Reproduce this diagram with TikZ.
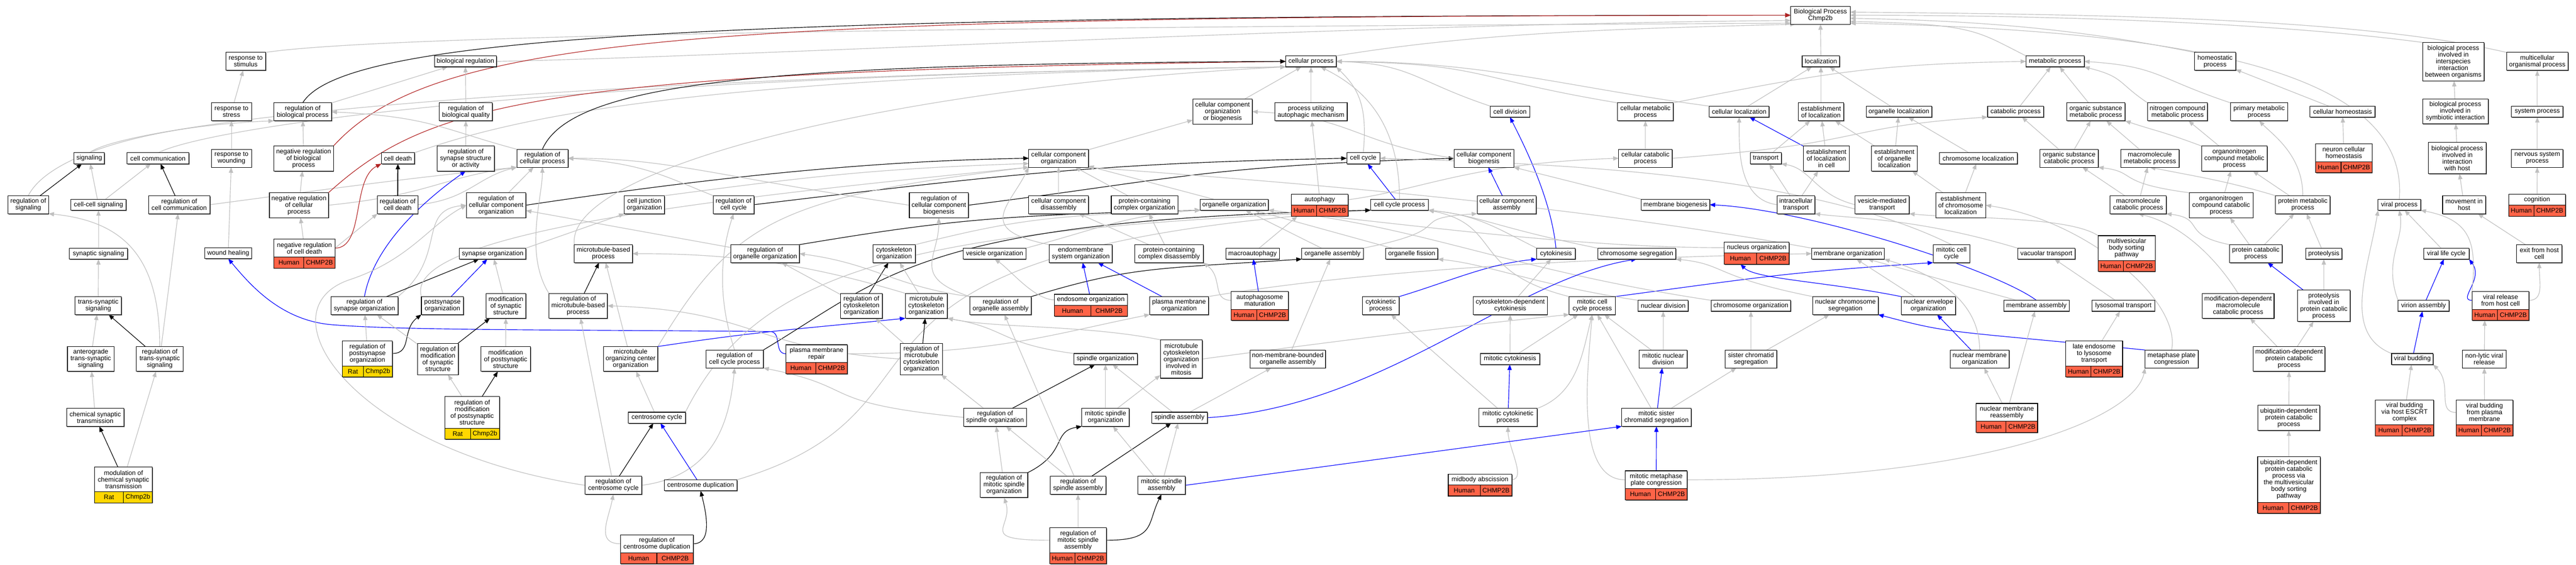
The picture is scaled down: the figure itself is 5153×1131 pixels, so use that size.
\documentclass[tikz,border=0pt]{standalone}
\usepackage{fontspec}
\newfontfamily\lsans{Liberation Sans}
\usetikzlibrary{arrows.meta,backgrounds,shadows}
\definecolor{egrey}{RGB}{192,192,192}
\definecolor{ered}{RGB}{178,34,34}
\definecolor{cellred}{RGB}{255,99,71}
\definecolor{cellyel}{RGB}{255,215,0}
\newcommand\gofnt{\lsans\fontsize{13}{13.4}\selectfont}
\tikzset{
  box/.style={draw=black, line width=1.1pt, fill=white, inner sep=1pt, outer sep=0pt, align=center, font=\gofnt,
    drop shadow={shadow xshift=1.3pt, shadow yshift=-1.3pt, fill=black!60, opacity=1}},
  hcell/.style={draw=black, line width=1.1pt, fill=cellred, minimum height=22pt, inner sep=0pt, outer sep=0pt, font=\gofnt,
    drop shadow={shadow xshift=1.3pt, shadow yshift=-1.3pt, fill=black!60, opacity=1}},
  ycell/.style={hcell, fill=cellyel},
  ed/.style={line width=1.2pt, -{Triangle[length=11pt,width=8.5pt]}},
  eg/.style={ed, draw=egrey},
  ek/.style={ed, draw=black},
  eb/.style={ed, draw=blue},
  er/.style={ed, draw=ered},
}
\newcommand\nd[6]{\node[box, minimum width=#4pt, minimum height=#5pt] (#1) at (#2,#3) {#6};}
\newcommand\hsp[7]{%
  \node[box, minimum width=#4pt, minimum height=#5pt] (#1) at (#2,#3) {#6};
  \node[hcell, minimum width=#7pt, anchor=north west] (#1-l) at (#1.south west) {Human};
  \node[hcell, minimum width={(#4-#7)*1pt}, anchor=north west] (#1-r) at (#1-l.north east) {CHMP2B};}
\newcommand\rsp[7]{%
  \node[box, minimum width=#4pt, minimum height=#5pt] (#1) at (#2,#3) {#6};
  \node[ycell, minimum width=#7pt, anchor=north west] (#1-l) at (#1.south west) {Rat};
  \node[ycell, minimum width={(#4-#7)*1pt}, anchor=north west] (#1-r) at (#1-l.north east) {Chmp2b};}
\begin{document}
\begin{tikzpicture}[x=1pt,y=-1pt]
\useasboundingbox (0,0) rectangle (5153,1131);
% ---------- nodes ----------
\nd{bp}{3641.5}{30.5}{119}{36}{Biological Process\\Chmp2b}
\nd{rstim}{491.5}{123}{79}{36}{response to\\stimulus}
\nd{bioreg}{931}{123}{124}{22}{biological regulation}
\nd{cellproc}{2622.5}{123}{101}{22}{cellular process}
\nd{loc}{3642.5}{123}{75}{22}{localization}
\nd{metab}{4111}{123}{116}{22}{metabolic process}
\nd{homeo}{4431}{123}{82}{36}{homeostatic\\process}
\nd{inter}{4907.5}{123.5}{123}{77}{biological process\\involved in\\interspecies\\interaction\\between organisms}
\nd{multi}{5075.5}{123}{123}{36}{multicellular\\organismal process}
\nd{rstress}{463}{224}{80}{36}{response to\\stress}
\nd{rbp}{605.5}{224}{115}{36}{regulation of\\biological process}
\nd{rbq}{932}{224}{106}{36}{regulation of\\biological quality}
\nd{ccob}{2445.5}{223.5}{119}{50}{cellular component\\organization\\or biogenesis}
\nd{puam}{2622.5}{224}{145}{36}{process utilizing\\autophagic mechanism}
\nd{celldiv}{3020.5}{223.5}{79}{22}{cell division}
\nd{cmp}{3291.5}{224}{111}{36}{cellular metabolic\\process}
\nd{cloc}{3479}{223.5}{120}{22}{cellular localization}
\nd{eloc}{3642.5}{224}{91}{36}{establishment\\of localization}
\nd{oloc}{3798.5}{223.5}{131}{22}{organelle localization}
\nd{catab}{4032}{223.5}{112}{22}{catabolic process}
\nd{osmp}{4192.5}{224}{117}{36}{organic substance\\metabolic process}
\nd{ncmp}{4356}{224}{120}{36}{nitrogen compound\\metabolic process}
\nd{pmp}{4519}{224}{114}{36}{primary metabolic\\process}
\nd{chomeo}{4686}{223.5}{130}{22}{cellular homeostasis}
\nd{symb}{4911.5}{223}{131}{50}{biological process\\involved in\\symbiotic interaction}
\nd{sysp}{5075.5}{223.5}{103}{22}{system process}
\nd{sig}{178.5}{317}{61}{22}{signaling}
\nd{ccomm}{316}{317}{123}{22}{cell communication}
\nd{rwound}{463}{317}{80}{36}{response to\\wounding}
\nd{nrbp}{607.5}{317.5}{119}{50}{negative regulation\\of biological\\process}
\nd{cdeath}{796}{317}{66}{22}{cell death}
\nd{rssa}{931.5}{317.5}{115}{50}{regulation of\\synapse structure\\or activity}
\nd{rcp}{1085}{317}{102}{36}{regulation of\\cellular process}
\nd{cco}{2117.5}{317}{119}{36}{cellular component\\organization}
\nd{ccycle}{2727}{317}{66}{22}{cell cycle}
\nd{ccb}{2968.5}{317}{119}{36}{cellular component\\biogenesis}
\nd{ccp}{3291.5}{317}{107}{36}{cellular catabolic\\process}
\nd{transp}{3532}{317}{62}{22}{transport}
\nd{elocc}{3653.5}{317.5}{91}{50}{establishment\\of localization\\in cell}
\nd{eoloc}{3789.5}{317.5}{91}{50}{establishment\\of organelle\\localization}
\nd{chrloc}{3957.5}{317}{155}{22}{chromosome localization}
\nd{oscp}{4139}{317}{116}{36}{organic substance\\catabolic process}
\nd{mmp}{4300.5}{317}{117}{36}{macromolecule\\metabolic process}
\nd{oncmp}{4469.5}{317.5}{131}{50}{organonitrogen\\compound metabolic\\process}
\hsp{nch}{4688.5}{306}{113}{36}{neuron cellular\\homeostasis}{51}
\nd{ihost}{4915.5}{316.5}{115}{63}{biological process\\involved in\\interaction\\with host}
\nd{nsp}{5075.5}{317}{103}{36}{nervous system\\process}
\nd{rsig}{56.5}{410}{81}{36}{regulation of\\signaling}
\nd{ccsig}{197}{410}{110}{22}{cell-cell signaling}
\nd{rccomm}{358.5}{410}{123}{36}{regulation of\\cell communication}
\nd{nrcp}{598}{411}{118}{50}{negative regulation\\of cellular\\process}
\nd{rcd}{795.5}{410}{81}{36}{regulation of\\cell death}
\nd{rcco}{992.5}{411}{119}{50}{regulation of\\cellular component\\organization}
\nd{cjo}{1289}{410}{80}{36}{cell junction\\organization}
\nd{rcc}{1467.5}{410}{81}{36}{regulation of\\cell cycle}
\nd{rccb}{1878}{411}{118}{50}{regulation of\\cellular component\\biogenesis}
\nd{ccd}{2117.5}{410}{119}{36}{cellular component\\disassembly}
\nd{pcco}{2289.5}{410}{133}{36}{protein-containing\\complex organization}
\nd{oorg}{2469}{410}{136}{22}{organelle organization}
\hsp{autoph}{2640}{400}{114}{22}{autophagy}{51}
\nd{ccproc}{2799.5}{410}{115}{22}{cell cycle process}
\nd{cca}{3014}{410}{118}{36}{cellular component\\assembly}
\nd{membio}{3351.5}{410}{137}{22}{membrane biogenesis}
\nd{itransp}{3592.5}{410}{75}{36}{intracellular\\transport}
\nd{vmt}{3765}{410}{108}{36}{vesicle-mediated\\transport}
\nd{echrloc}{3922}{411}{100}{50}{establishment\\of chromosome\\localization}
\nd{mcp}{4277}{410}{112}{36}{macromolecule\\catabolic process}
\nd{onccp}{4443}{411}{128}{50}{organonitrogen\\compound catabolic\\process}
\nd{protmp}{4606.5}{410}{109}{36}{protein metabolic\\process}
\nd{viralp}{4799.5}{410}{85}{22}{viral process}
\nd{movhost}{4929}{410}{86}{36}{movement in\\host}
\hsp{cogn}{5075}{400}{114}{22}{cognition}{51}
\nd{synsig}{197}{508}{116}{22}{synaptic signaling}
\nd{whealing}{456.5}{507}{93}{22}{wound healing}
\hsp{nrcd}{609}{497}{122}{36}{negative regulation\\of cell death}{60}
\nd{synorg}{985.5}{508}{133}{22}{synapse organization}
\nd{mtbp}{1207}{508}{116}{36}{microtubule-based\\process}
\nd{roo}{1530.5}{508}{137}{36}{regulation of\\organelle organization}
\nd{cytorg}{1788.5}{508}{85}{36}{cytoskeleton\\organization}
\nd{vesorg}{1989.5}{508}{125}{22}{vesicle organization}
\nd{endomem}{2162}{508}{126}{36}{endomembrane\\system organization}
\nd{pccd}{2338.5}{508}{137}{36}{protein-containing\\complex disassembly}
\nd{macroaut}{2505.5}{508}{107}{22}{macroautophagy}
\nd{orgasm}{2665.5}{508}{123}{22}{organelle assembly}
\nd{orgfis}{2824}{508}{104}{22}{organelle fission}
\nd{cytokin}{3112.5}{508}{77}{22}{cytokinesis}
\nd{chrseg}{3274}{508}{156}{22}{chromosome segregation}
\hsp{nucorg}{3514}{496}{130}{22}{nucleus organization}{65}
\nd{memorg}{3696.5}{508}{145}{22}{membrane organization}
\nd{mcc}{3903.5}{508}{73}{36}{mitotic cell\\cycle}
\nd{vact}{4093.5}{508}{115}{22}{vacuolar transport}
\hsp{mvb}{4254}{497}{114}{50}{multivesicular\\body sorting\\pathway}{51}
\nd{pcp}{4512.5}{508}{105}{36}{protein catabolic\\process}
\nd{proteol}{4648.5}{508}{73}{22}{proteolysis}
\nd{vlc}{4893.5}{508}{91}{22}{viral life cycle}
\nd{exithost}{5079.5}{508}{91}{36}{exit from host\\cell}
\nd{tsig}{196.5}{612}{93}{36}{trans-synaptic\\signaling}
\nd{rso}{729}{612}{134}{36}{regulation of\\synapse organization}
\nd{pso}{885}{612}{84}{36}{postsynapse\\organization}
\nd{mss}{1012}{612.5}{80}{50}{modification\\of synaptic\\structure}
\nd{rmtbp}{1156.5}{612.5}{117}{50}{regulation of\\microtubule-based\\process}
\nd{rco}{1723}{612.5}{84}{50}{regulation of\\cytoskeleton\\organization}
\nd{mco}{1853}{612.5}{84}{50}{microtubule\\cytoskeleton\\organization}
\nd{roa}{2001.5}{612}{123}{36}{regulation of\\organelle assembly}
\hsp{endoorg}{2182}{600.5}{146}{22}{endosome organization}{73}
\nd{pmo}{2358.5}{612}{117}{36}{plasma membrane\\organization}
\hsp{apm}{2520}{601.5}{114}{36}{autophagosome\\maturation}{51}
\nd{cytp}{2762}{612}{74}{36}{cytokinetic\\process}
\nd{cdc}{3021}{612}{148}{36}{cytoskeleton-dependent\\cytokinesis}
\nd{mccp}{3185}{612}{92}{36}{mitotic cell\\cycle process}
\nd{nucdiv}{3327}{612.5}{100}{22}{nuclear division}
\nd{chrorg}{3502.5}{612.5}{159}{22}{chromosome organization}
\nd{ncs}{3691.5}{612}{131}{36}{nuclear chromosome\\segregation}
\nd{neo}{3857.5}{612}{109}{36}{nuclear envelope\\organization}
\nd{memasm}{4073.5}{612.5}{131}{22}{membrane assembly}
\nd{lysot}{4247.5}{612.5}{125}{22}{lysosomal transport}
\nd{mdmcp}{4477}{612.5}{144}{50}{modification-dependent\\macromolecule\\catabolic process}
\nd{pipcp}{4648.5}{612.5}{105}{63}{proteolysis\\involved in\\protein catabolic\\process}
\nd{virasm}{4848}{612.5}{102}{22}{virion assembly}
\hsp{vrelease}{5002}{601.5}{114}{36}{viral release\\from host cell}{51}
\nd{antero}{181.5}{719}{93}{50}{anterograde\\trans-synaptic\\signaling}
\nd{rtss}{319.5}{719}{93}{50}{regulation of\\trans-synaptic\\signaling}
\rsp{rpso}{735}{708}{100}{50}{regulation of\\postsynapse\\organization}{42}
\nd{rmss}{876}{719}{82}{63}{regulation of\\modification\\of synaptic\\structure}
\nd{mps}{1011.5}{719}{99}{50}{modification\\of postsynaptic\\structure}
\nd{mtoc}{1261.5}{719}{109}{50}{microtubule\\organizing center\\organization}
\nd{rccp}{1469.5}{719}{115}{36}{regulation of\\cell cycle process}
\hsp{pmr}{1633.5}{708.5}{123}{36}{plasma membrane\\repair}{60}
\nd{rmco}{1843}{719}{84}{63}{regulation of\\microtubule\\cytoskeleton\\organization}
\nd{spo}{2211.5}{719}{127}{22}{spindle organization}
\nd{mcoim}{2363}{719}{84}{77}{microtubule\\cytoskeleton\\organization\\involved in\\mitosis}
\nd{nmboa}{2576}{719}{150}{36}{non-membrane-bounded\\organelle assembly}
\nd{mcyt}{3020.5}{719}{119}{22}{mitotic cytokinesis}
\nd{mnd}{3327}{719}{96}{36}{mitotic nuclear\\division}
\nd{scs}{3502.5}{719}{103}{36}{sister chromatid\\segregation}
\nd{nmo}{3960}{719}{118}{36}{nuclear membrane\\organization}
\hsp{lelt}{4189}{708}{114}{50}{late endosome\\to lysosome\\transport}{51}
\nd{mpc}{4344}{719}{106}{36}{metaphase plate\\congression}
\nd{mdpcp}{4579}{719}{144}{50}{modification-dependent\\protein catabolic\\process}
\nd{vbud}{4825.5}{719}{83}{22}{viral budding}
\nd{nlvr}{4969.5}{719}{87}{36}{non-lytic viral\\release}
\nd{cst}{190.5}{836}{115}{36}{chemical synaptic\\transmission}
\rsp{rmps}{944.5}{826}{109}{64}{regulation of\\modification\\of postsynaptic\\structure}{51}
\nd{csc}{1314}{836.5}{114}{22}{centrosome cycle}
\nd{rspo}{1990.5}{836}{125}{36}{regulation of\\spindle organization}
\nd{mspo}{2211.5}{836}{95}{36}{mitotic spindle\\organization}
\nd{spa}{2359.5}{836.5}{111}{22}{spindle assembly}
\nd{mcytp}{3016.5}{836}{117}{36}{mitotic cytokinetic\\process}
\nd{mscs}{3313.5}{836}{139}{36}{mitotic sister\\chromatid segregation}
\hsp{nmr}{4014.5}{826}{123}{36}{nuclear membrane\\reassembly}{60}
\nd{udpcp}{4578.5}{837}{123}{50}{ubiquitin-dependent\\protein catabolic\\process}
\hsp{vbescrt}{4810}{826}{116}{50}{viral budding\\via host ESCRT\\complex}{53}
\hsp{vbpm}{4970}{826}{114}{50}{viral budding\\from plasma\\membrane}{51}
\rsp{modcst}{247}{960}{116}{50}{modulation of\\chemical synaptic\\transmission}{58}
\nd{rcsc}{1227}{972}{114}{36}{regulation of\\centrosome cycle}
\nd{csdup}{1401.5}{972}{145}{22}{centrosome duplication}
\nd{rmspo}{2008.5}{971.5}{95}{50}{regulation of\\mitotic spindle\\organization}
\nd{rspa}{2156.5}{972}{111}{36}{regulation of\\spindle assembly}
\nd{mspa}{2323.5}{972}{95}{36}{mitotic spindle\\assembly}
\hsp{midbody}{2960.5}{960.5}{127}{22}{midbody abscission}{64}
\hsp{mmpc}{3313}{961}{124}{36}{mitotic metaphase\\plate congression}{61}
\hsp{udmvb}{4578.5}{960.5}{125}{91}{ubiquitin-dependent\\protein catabolic\\process via\\the multivesicular\\body sorting\\pathway}{62}
\hsp{rcsdup}{1314}{1089}{146}{36}{regulation of\\centrosome duplication}{73}
\hsp{rmspa}{2156.5}{1082}{113}{50}{regulation of\\mitotic spindle\\assembly}{50}
% ---------- edges ----------
\begin{pgfonlayer}{background}
\fill[white] (0,0) rectangle (5153,1131);
% root
\draw[eg] (rstim.north east) .. controls +(300,-45) and +(-900,5) .. (bp.195);
\draw[eg] (bioreg.east) .. controls +(500,-10) and +(-900,8) .. (bp.190);
\draw[eg] (cellproc.north east) .. controls +(300,-50) and +(-300,8) .. (bp.200);
\draw[ek] (rbp.north) .. controls +(80,-130) and +(-2200,0) .. (bp.west);
\draw[er] (nrbp.north east) .. controls +(200,-220) and +(-2200,2) .. (bp.west);
\draw[eg] (loc) -- (bp);
\draw[eg] (metab.north west) .. controls +(-100,-50) and +(250,5) .. (bp.-12);
\draw[eg] (homeo.north west) .. controls +(-200,-40) and +(300,5) .. (bp.-6);
\draw[eg] (inter.north west) .. controls +(-300,-40) and +(400,0) .. (bp.0);
\draw[eg] (multi.north west) .. controls +(-300,-70) and +(500,5) .. (bp.6);
\draw[eg] (viralp.north) .. controls +(20,-250) and +(700,15) .. (bp.-15);
% signalling
\draw[ek] (rsig) -- (sig);
\draw[eg] (rsig.north) .. controls +(40,-80) and +(-250,10) .. (rbp.south west);
\draw[eg] (ccsig) -- (sig);
\draw[eg] (ccsig) -- (ccomm);
\draw[ek] (rccomm) -- (ccomm);
\draw[eg] (rccomm.east) .. controls +(300,-40) and +(-200,20) .. (rcp.south west);
\draw[eg] (synsig) -- (ccsig);
\draw[eg] (tsig) -- (synsig);
\draw[eg] (antero) -- (tsig);
\draw[ek] (rtss) -- (tsig);
\draw[eg] (rtss) -- (rccomm);
\draw[eg] (rtss.north) .. controls +(0,-180) and +(150,15) .. (rsig.south east);
\draw[eg] (cst) -- (antero);
\draw[ek] (modcst) -- (cst);
\draw[eg] (modcst) -- (rtss);
\draw[eg] (sig.north) .. controls +(80,-60) and +(-1500,20) .. (cellproc.south west);
\draw[eg] (ccomm.north) .. controls +(100,-50) and +(-1500,20) .. (cellproc.south west);
% response
\draw[eg] (rstress) -- (rstim);
\draw[eg] (rwound) -- (rstress);
\draw[eg] (whealing) -- (rwound);
\draw[eb] (pmr.west) .. controls +(-25,0) and +(25,0) .. (1540,664) .. controls (1100,660) and (800,662) .. (660,650) .. controls (560,640) and (500,570) .. (whealing.south);
% regulation
\draw[eg] (rbp) -- (bioreg);
\draw[eg] (rbq) -- (bioreg);
\draw[eg] (nrbp) -- (rbp);
\draw[eg] (nrcp) -- (nrbp);
\draw[eg] (nrcp.east) .. controls +(200,-20) and +(-150,20) .. (rcp.south west);
\draw[er] (nrcp.north east) .. controls +(200,-180) and +(-1500,20) .. (cellproc.west);
\draw[eg] (nrcd) -- (nrcp);
\draw[eg] (nrcd.east) -- (rcd.south west);
\draw[er] (nrcd.east) .. controls +(60,0) and +(-60,30) .. (cdeath.south west);
\draw[ek, line width=2pt] (rcd) -- (cdeath);
\draw[eg] (rcd.east) .. controls +(100,-10) and +(-80,20) .. (rcp.south west);
\draw[eg] (cdeath.north east) .. controls +(200,-70) and +(-1200,20) .. (cellproc.south west);
\draw[eg] (rssa) -- (rbq);
\draw[eg] (rcp.north west) .. controls +(-150,-40) and +(200,10) .. (rbp.east);
\draw[ek] (rcp.north) .. controls +(60,-140) and +(-1000,5) .. (cellproc.west);
% synapse
\draw[eb] (rso.north) .. controls +(20,-110) and +(-70,50) .. (rssa.south);
\draw[eg] (rso.north east) .. controls +(100,-80) and +(-100,10) .. (rcco.west);
\draw[ek] (rso) -- (synorg);
\draw[eg] (rpso) -- (rso);
\draw[ek] (rpso.east) .. controls +(40,0) and +(-40,30) .. (pso.south west);
\draw[eb] (pso) -- (synorg);
\draw[eg] (pso.north west) .. controls +(-40,-130) and +(-600,60) .. (cco.south west);
\draw[eg] (synorg.north east) -- (cjo.south west);
\draw[ek] (rmss) -- (mss);
\draw[eg] (rmss) -- (rso);
\draw[eg] (mps) -- (mss);
\draw[eg] (mss) -- (synorg);
\draw[eg] (rmps) -- (rmss);
\draw[ek] (rmps) -- (mps);
% cellular component organization regulation
\draw[eg] (rcco) -- (rcp);
\draw[ek] (rcco.east) .. controls +(400,-60) and +(-300,5) .. (cco.west);
\draw[eg] (cjo.north east) .. controls +(300,-40) and +(-300,10) .. (cco.190);
\draw[eg] (rcc.north west) .. controls +(-100,-40) and +(150,10) .. (rcp.east);
\draw[ek] (rcc.east) .. controls +(500,-60) and +(-500,10) .. (ccycle.west);
\draw[eg] (mtbp.north west) .. controls +(-20,-150) and +(-800,40) .. (cellproc.south west);
\draw[ek] (rmtbp) -- (mtbp);
\draw[eg] (rmtbp.north west) .. controls +(-50,-80) and +(0,60) .. (rcp.south);
\draw[eg] (mtoc) -- (mtbp);
\draw[eg] (mtoc.north east) .. controls +(150,-250) and +(-500,60) .. (cco.south west);
\draw[eb] (mtoc.north east) .. controls +(200,-30) and +(-250,25) .. (mco.south west);
\draw[eg] (csc) -- (mtoc);
\draw[eg] (csc.north east) .. controls +(150,-300) and +(-900,40) .. (ccproc.south west);
\draw[ek] (rcsc) -- (csc);
\draw[eg] (rcsc) -- (rmtbp);
\draw[eg] (rcsc.east) .. controls +(150,-20) and +(-10,100) .. (rccp.south);
\draw[eg] (rcsc.west) .. controls (700,900) and (520,620) .. (700,560) .. controls (820,520) and (860,450) .. (rcco.west);
\draw[ek] (rcsdup.east) .. controls +(40,0) and +(10,40) .. (csdup.south);
\draw[eg] (rcsdup.west) .. controls +(-50,0) and +(-10,50) .. (rcsc.south);
\draw[eb] (csdup) -- (csc);
\draw[eg] (csdup.north east) .. controls +(500,-150) and +(-1200,80) .. (ccproc.south west);
\draw[eg] (rccp.north) .. controls +(-40,-120) and +(-20,60) .. (rcc.south);
\draw[ek] (rccp.north east) .. controls +(250,-150) and +(-900,20) .. (ccproc.south west);
\draw[eg] (rspo.west) .. controls +(-300,-30) and +(200,40) .. (rccp.south east);
\draw[eg] (pmr.east) .. controls +(300,0) and +(-200,40) .. (pmo.south west);
\draw[eg] (roo) -- (rcco);
\draw[ek] (roo.north east) .. controls +(300,-50) and +(-400,10) .. (oorg.south west);
\draw[eg] (rco) -- (roo);
\draw[ek] (rco) -- (cytorg);
\draw[eg] (mco) -- (cytorg);
\draw[eg] (mco.north west) .. controls +(-200,-60) and +(200,0) .. (mtbp.east);
\draw[ek] (rmco) -- (mco);
\draw[eg] (rmco) -- (rco);
\draw[eg] (rmco.west) .. controls +(-300,-20) and +(300,10) .. (rmtbp.east);
\draw[eg] (rspo) -- (rmco);
\draw[ek] (rspo) -- (spo);
\draw[eg] (rmspo) -- (rspo);
\draw[ek] (rmspo.north east) .. controls +(80,-40) and +(-60,10) .. (mspo.south west);
\draw[eg] (rspa) -- (rspo);
\draw[eg] (rspa) -- (roa);
\draw[ek] (rspa) -- (spa);
\draw[eg] (rmspa.west) .. controls +(-150,0) and +(20,60) .. (rmspo.south);
\draw[eg] (rmspa) -- (rspa);
\draw[ek] (rmspa.east) .. controls +(100,0) and +(-30,60) .. (mspa.south);
\draw[eg] (roa.north west) .. controls +(-150,-20) and +(150,20) .. (roo.east);
\draw[eg] (roa.north west) .. controls +(-120,-40) and +(0,80) .. (rccb.south);
\draw[ek] (roa.north east) .. controls +(200,-60) and +(-300,20) .. (orgasm.south west);
\draw[eg] (rccb.west) .. controls +(-400,-60) and +(200,0) .. (rcp.east);
\draw[ek] (rccb.east) .. controls +(400,-50) and +(-500,15) .. (ccb.west);
% organisation
\draw[eg] (cytorg.north east) .. controls +(200,-50) and +(-300,10) .. (oorg.south west);
\draw[eg] (vesorg.north east) .. controls +(150,-40) and +(-150,10) .. (oorg.south west);
\draw[eg] (endomem.north west) .. controls +(-150,-30) and +(-40,80) .. (cco.south west);
\draw[eb] (endoorg) -- (endomem);
\draw[eg] (endoorg.west) .. controls +(-40,0) and +(30,20) .. (vesorg.south);
\draw[eb] (pmo) -- (endomem);
\draw[eg] (pmo.north east) .. controls +(300,-50) and +(-500,10) .. (memorg.west);
\draw[eg] (ccd) -- (cco);
\draw[eg] (cco) -- (ccob);
\draw[eg] (ccob) -- (cellproc);
\draw[eg] (pcco) -- (cco);
\draw[eg] (pccd) -- (pcco);
\draw[eg] (pccd) -- (ccd);
\draw[eg] (oorg) -- (cco);
\draw[eg] (macroaut) -- (autoph-l);
\draw[eb] (apm) -- (macroaut);
\draw[eg] (apm.west) .. controls +(-40,0) and +(40,30) .. (pccd.south east);
\draw[eg] (autoph) -- (puam);
\draw[eg] (autoph.east) .. controls +(150,-20) and +(-300,10) .. (ccp.west);
\draw[eg] (puam) -- (cellproc);
\draw[eg] (ccycle.north) .. controls +(10,-100) and +(40,40) .. (cellproc.south east);
\draw[eg] (ccproc.north) .. controls +(0,-160) and +(80,40) .. (cellproc.-30);
\draw[eb] (ccproc) -- (ccycle);
\draw[eg] (ccb.west) .. controls +(-200,-30) and +(200,10) .. (ccob.east);
\draw[eb] (cca) -- (ccb);
\draw[eg] (orgasm.north east) .. controls +(200,-40) and +(-150,10) .. (cca.south west);
\draw[eg] (orgasm) -- (oorg);
\draw[eg] (orgfis) -- (oorg);
\draw[eg] (nmboa) -- (orgasm);
\draw[eb] (cytokin.north) .. controls +(-10,-100) and +(30,60) .. (celldiv.south);
\draw[eg] (cytokin.north west) .. controls +(-80,-40) and +(100,10) .. (ccproc.south east);
\draw[eg] (chrseg.north west) .. controls +(-200,-40) and +(100,10) .. (ccproc.south east);
\draw[eb] (cytp.north east) .. controls +(100,-30) and +(-100,10) .. (cytokin.south west);
\draw[eg] (cdc) -- (cytokin);
\draw[eg] (mccp.north west) .. controls +(-200,-50) and +(150,30) .. (ccproc.south east);
\draw[eb] (mccp.north east) .. controls +(300,-40) and +(-300,20) .. (mcc.south west);
\draw[eg] (nucdiv.north west) .. controls +(-200,-30) and +(100,10) .. (orgfis.south east);
\draw[eg] (chrorg.north west) .. controls +(-400,-60) and +(300,30) .. (oorg.south east);
\draw[eg] (ncs.north west) .. controls +(-200,-40) and +(100,10) .. (chrseg.south east);
\draw[eb] (neo.north west) .. controls +(-150,-30) and +(30,30) .. (nucorg-l.south);
\draw[eg] (neo) -- (memorg);
\draw[eg] (nucorg.west) .. controls +(-300,0) and +(300,30) .. (oorg.south east);
\draw[eg] (memorg.north west) .. controls +(-500,-90) and +(400,30) .. (cco.south east);
\draw[eg] (mcc.north) .. controls +(-300,-150) and +(300,10) .. (ccycle.east);
\draw[eg] (mnd) -- (nucdiv);
\draw[eg] (mnd) -- (mccp);
\draw[eg] (mcyt) -- (cdc);
\draw[eg] (mcyt) -- (mccp);
\draw[eb] (mcytp) -- (mcyt);
\draw[eg] (mcytp) -- (cytp);
\draw[eg] (mcytp.north east) .. controls +(80,-30) and +(-20,80) .. (mccp.south);
\draw[eg] (midbody.east) .. controls +(30,0) and +(0,40) .. (mcytp.south);
\draw[eb] (mscs) -- (mnd);
\draw[eg] (mscs) -- (mccp);
\draw[eg] (mscs) -- (scs);
\draw[eb] (mmpc) -- (mscs);
\draw[eg] (mmpc.west) .. controls +(-100,0) and +(-10,120) .. (mccp.south);
\draw[eg] (mmpc.east) .. controls +(600,0) and +(-20,100) .. (mpc.south west);
\draw[eb] (mspa.east) -- (mscs.south west);
\draw[eb] (spa.east) .. controls +(350,-20) and +(-250,40) .. (chrseg.south);
\draw[eg] (scs) -- (chrorg);
\draw[eg] (scs) -- (ncs);
\draw[eg] (spo.north west) .. controls +(-150,-20) and +(120,20) .. (mco.south east);
\draw[eg] (mcoim.north west) .. controls +(-150,-30) and +(100,20) .. (mco.south east);
\draw[eg] (mcoim.east) .. controls +(300,-40) and +(-200,20) .. (mccp.south west);
\draw[eg] (mspo) -- (spo);
\draw[eg] (mspo) -- (mcoim);
\draw[eg] (mspa) -- (mspo);
\draw[eg] (mspa) -- (spa);
\draw[eg] (spa) -- (spo);
\draw[eg] (spa) -- (nmboa);
\draw[eg] (mpc.north) .. controls +(20,-100) and +(200,30) .. (echrloc.east);
\draw[eb] (mpc.north west) .. controls +(-400,-40) and +(150,40) .. (ncs.south east);
% localization
\draw[eg] (cloc) -- (loc);
\draw[eg] (eloc) -- (loc);
\draw[eg] (oloc) -- (loc);
\draw[eg] (transp) -- (eloc);
\draw[eg] (elocc) -- (eloc);
\draw[eb] (elocc) -- (cloc);
\draw[eg] (eoloc) -- (eloc);
\draw[eg] (eoloc) -- (oloc);
\draw[eg] (itransp) -- (transp);
\draw[eg] (itransp) -- (elocc);
\draw[eg] (itransp.west) .. controls +(-80,-10) and +(0,60) .. (cloc.south);
\draw[eg] (vmt.west) .. controls +(-80,-20) and +(60,10) .. (transp.south east);
\draw[eg] (echrloc) -- (eoloc);
\draw[eg] (echrloc) -- (chrloc);
\draw[eg] (chrloc) -- (oloc);
\draw[eg] (vact.north west) .. controls +(-200,-60) and +(80,10) .. (itransp.south east);
\draw[eg] (lysot) -- (vact);
\draw[eg] (lelt) -- (lysot);
\draw[eg] (mvb.north west) .. controls +(-60,-40) and +(100,10) .. (vmt.south east);
\draw[eg] (cloc.north west) .. controls +(-300,-40) and +(300,0) .. (cellproc.east);
\draw[eg] (celldiv.north west) .. controls +(-150,-50) and +(150,5) .. (cellproc.east);
\draw[eg] (cmp.north west) .. controls +(-300,-50) and +(300,5) .. (cellproc.east);
\draw[eg] (membio.north west) -- (ccb.south east);
\draw[eb] (memasm.north) .. controls +(-80,-60) and +(200,10) .. (membio.east);
\draw[eg] (memasm) -- (memorg);
\draw[eb] (nmo) -- (neo);
\draw[eg] (nmo.north) .. controls +(0,-100) and +(100,30) .. (memorg.south east);
\draw[eg] (nmr) -- (nmo);
\draw[eg] (nmr) -- (memasm);
% metabolism
\draw[eg] (ccp) -- (cmp);
\draw[eg] (ccp.east) .. controls +(400,-30) and +(-300,20) .. (catab.south west);
\draw[eg] (cmp.north east) .. controls +(300,-60) and +(-300,5) .. (metab.west);
\draw[eg] (catab) -- (metab);
\draw[eg] (osmp) -- (metab);
\draw[eg] (ncmp.north west) .. controls +(-60,-40) and +(80,20) .. (metab.south east);
\draw[eg] (pmp.north west) .. controls +(-150,-50) and +(150,10) .. (metab.east);
\draw[eg] (oscp) -- (catab);
\draw[eg] (oscp) -- (osmp);
\draw[eg] (mmp) -- (osmp);
\draw[eg] (mcp) -- (mmp);
\draw[eg] (mcp) -- (oscp);
\draw[eg] (oncmp) -- (ncmp);
\draw[eg] (oncmp.north west) .. controls +(-80,-30) and +(60,20) .. (osmp.south east);
\draw[eg] (onccp) -- (oncmp);
\draw[eg] (onccp.north west) .. controls +(-150,-20) and +(80,10) .. (oscp.south east);
\draw[eg] (protmp) -- (oncmp);
\draw[eg] (protmp.north) .. controls +(0,-80) and +(30,30) .. (pmp.south);
\draw[eg] (protmp.north west) .. controls +(-100,-30) and +(100,20) .. (mmp.south);
\draw[eg] (pcp) -- (protmp);
\draw[eg] (pcp) -- (onccp);
\draw[eg] (pcp.north west) .. controls +(-100,-20) and +(80,10) .. (mcp.south east);
\draw[eg] (proteol) -- (protmp);
\draw[eg] (mdmcp.north) .. controls +(-50,-80) and +(80,20) .. (mcp.south);
\draw[eb] (pipcp) -- (pcp);
\draw[eg] (pipcp) -- (proteol);
\draw[eg] (mdpcp) -- (mdmcp);
\draw[eg] (mdpcp) -- (pipcp);
\draw[eg] (udpcp) -- (mdpcp);
\draw[eg] (udmvb) -- (udpcp);
\draw[eg] (chomeo) -- (homeo);
\draw[eg] (nch) -- (chomeo);
% organisms
\draw[eg] (symb) -- (inter);
\draw[eg] (ihost) -- (symb);
\draw[eg] (movhost) -- (ihost);
\draw[eg] (sysp) -- (multi);
\draw[eg] (nsp) -- (sysp);
\draw[eg] (cogn) -- (nsp);
\draw[eg] (vlc) -- (viralp);
\draw[eg] (exithost) -- (movhost);
\draw[eb] (virasm) -- (vlc);
\draw[eg] (virasm.north west) .. controls +(-30,-80) and +(10,60) .. (viralp.south);
\draw[eb] (vrelease.west) .. controls +(-30,0) and +(30,40) .. (vlc.south east);
\draw[eg] (vrelease.north west) .. controls +(10,-100) and +(100,20) .. (viralp.south east);
\draw[eg] (vrelease.east) .. controls +(30,0) and +(0,40) .. (exithost.south);
\draw[eb] (vbud) -- (virasm);
\draw[eg] (vbud.north west) .. controls +(-100,-40) and +(-20,120) .. (viralp.south west);
\draw[eg] (nlvr) -- (vrelease-l);
\draw[eg] (vbescrt) -- (vbud);
\draw[eg] (vbpm.west) .. controls +(-40,0) and +(40,40) .. (vbud.south east);
\draw[eg] (vbpm) -- (nlvr);
\end{pgfonlayer}
\end{tikzpicture}
\end{document}
